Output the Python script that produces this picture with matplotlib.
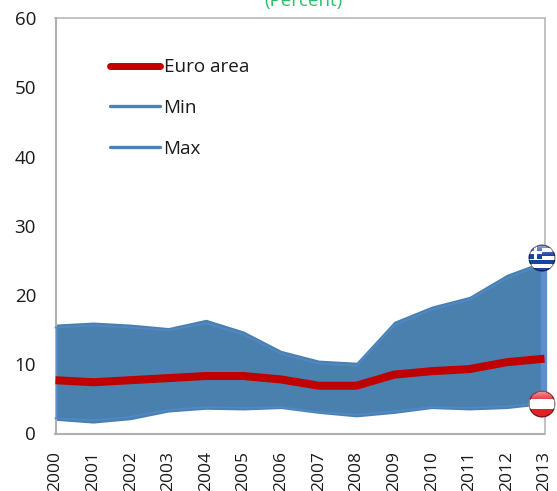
"""
Euro area rate with the min-max range across countries, 2000-2013
"""

import numpy as np
import matplotlib
matplotlib.use('Agg')
import matplotlib.pyplot as plt
from matplotlib.lines import Line2D
from matplotlib.offsetbox import AnnotationBbox, OffsetImage

years = list(range(2000, 2014))
euro_area = [7.7, 7.4, 7.7, 8.0, 8.3, 8.3, 7.8, 6.9, 6.9, 8.5, 9.0, 9.3, 10.3, 10.8]
min_line = [2.2, 1.9, 2.4, 3.4, 3.8, 3.7, 3.8, 3.1, 2.7, 3.2, 3.8, 3.7, 3.9, 4.5]
max_line = [15.3, 15.6, 15.3, 14.9, 15.9, 14.3, 11.5, 10.1, 9.8, 15.6, 17.9, 19.3, 22.4, 24.6]
area_low = [1.9, 1.5, 2.0, 3.1, 3.5, 3.4, 3.6, 2.9, 2.4, 2.9, 3.6, 3.4, 3.6, 4.2]
area_high = [15.8, 16.1, 15.8, 15.3, 16.5, 14.8, 12.0, 10.6, 10.3, 16.2, 18.4, 19.8, 23.0, 25.0]
flag_values = {'greece': 25.3, 'austria': 4.3}

FONT = 'Open Sans'
AREA = '#4a80ad'
LINE = '#5088c8'
RED = '#c00000'
GREY = '#b0b0b0'


def flag_image(kind, size=28):
    """Monta a bandeira redonda com brilho, como imagem RGBA."""
    yy, xx = np.mgrid[0:size, 0:size]
    u = (xx + 0.5) / size
    v = (yy + 0.5) / size
    r = np.hypot(u - 0.5, v - 0.5)
    img = np.ones((size, size, 4))
    if kind == 'greece':
        blue = np.array([0.10, 0.27, 0.62])
        stripes = (np.floor(v * 7).astype(int) % 2 == 0)
        img[stripes, :3] = blue
        canton = (u < 0.5) & (v < 0.55)
        img[canton, :3] = blue
        cross = canton & ((np.abs(u - 0.27) < 0.05) | (np.abs(v - 0.3) < 0.05))
        img[cross, :3] = 1.0
    else:
        red = np.array([0.90, 0.12, 0.16])
        img[(v < 0.32) | (v > 0.68), :3] = red
    gloss = np.clip(1 - v * 2.4, 0, 1)[..., None] * 0.6
    img[..., :3] = img[..., :3] * (1 - gloss) + gloss
    edge = (r > 0.44) & (r <= 0.5)
    img[edge, :3] = img[edge, :3] * 0.55
    img[..., 3] = np.clip((0.5 - r) * size, 0, 1)
    return img


fig = plt.figure(figsize=(5.57, 4.91), dpi=100, facecolor='white')
ax = fig.add_axes([55.5 / 557, 1 - 433.5 / 491, 489 / 557, 415.5 / 491])

ax.fill_between(years, area_low, area_high, color=AREA, linewidth=0, clip_on=False, zorder=2)
ax.vlines(years[-1], min_line[-1], max_line[-1], color='#5b8fcf', linewidth=4.5, clip_on=False, zorder=3)
ax.vlines(years[0] + 0.05, min_line[0], max_line[0], color=LINE, linewidth=1.2, clip_on=False, zorder=3)
ax.plot(years, min_line, color=LINE, linewidth=1.2, clip_on=False, zorder=3)
ax.plot(years, max_line, color=LINE, linewidth=1.2, clip_on=False, zorder=3)
ax.plot(years, euro_area, color=RED, linewidth=5.8, solid_capstyle='butt',
        solid_joinstyle='round', clip_on=False, zorder=4)

ax.set_xlim(2000, 2013)
ax.set_ylim(0, 60)
ax.set_yticks(range(0, 61, 10))
ax.set_xticks(years)
ax.set_xticklabels(years, rotation=90, family=FONT, fontsize=12.5, color='#1a1a1a')
ax.set_yticklabels(range(0, 61, 10), family=FONT, fontsize=13.5, color='#1a1a1a')
ax.tick_params(length=0)
ax.tick_params(axis='x', pad=12.5)
ax.tick_params(axis='y', pad=14)

for side, spine in ax.spines.items():
    spine.set_color(GREY)
    spine.set_linewidth(1.5 if side in ('left', 'bottom') else 1.1)

# Legenda
handles = [
    Line2D([], [], color=RED, linewidth=5, solid_capstyle='round'),
    Line2D([], [], color='#4f81ad', linewidth=2.4, solid_capstyle='round'),
    Line2D([], [], color='#4f81ad', linewidth=2.4, solid_capstyle='round'),
]
ax.legend(handles, ['Euro area', 'Min', 'Max'], loc='upper left', bbox_to_anchor=(0.111, 0.903),
          frameon=False, handlelength=2.65, handletextpad=0.2, labelspacing=1.2,
          borderpad=0, borderaxespad=0, prop={'family': FONT, 'size': 13.6}, labelcolor='#1a1a1a')

# Bandeiras na ponta da faixa
for kind, value in flag_values.items():
    box = AnnotationBbox(OffsetImage(flag_image(kind), zoom=0.72), (years[-1], value),
                         xybox=(-1.5, 0), boxcoords='offset points', pad=0,
                         frameon=False, annotation_clip=False, zorder=6)
    ax.add_artist(box)

# Titulo cortado no topo da imagem, como na referencia
fig.text(303 / 557, 1 - 1 / 491, '(Percent)', color='#2cc06c', family=FONT, fontsize=13.5,
         ha='center', va='center')

fig.savefig('out.png', dpi=100)
